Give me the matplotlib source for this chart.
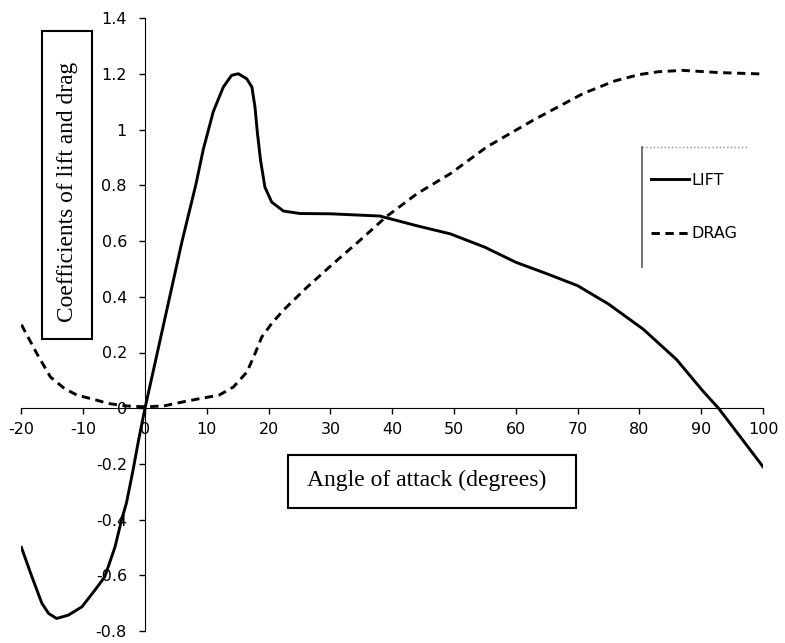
import matplotlib.pyplot as plt
from matplotlib.patches import Rectangle
from matplotlib.lines import Line2D

# values
angle_lift = [-20, -18.3, -16.7, -15.6, -14.3, -12.4, -10.2, -8.1, -6.5, -4.85, -3.8, -3, -2, -1, 0,
              2, 4, 6, 8.2, 9.44, 11.05, 12.67, 14.0, 15.1, 16.45, 17.3, 17.8, 18.2, 18.7,
              19.4, 20.5, 22.4, 25.1, 30, 38, 44, 49.4, 55, 60, 65, 70, 75, 80.6, 86, 90.3,
              92.8, 100]
lift = [-0.50, -0.605, -0.70, -0.737, -0.755, -0.743, -0.713, -0.653, -0.605, -0.498, -0.402, -0.34,
        -0.23, -0.11, 0.0,
        0.2, 0.4, 0.6, 0.8, 0.93, 1.065, 1.153, 1.195, 1.201, 1.183, 1.153, 1.081, 0.986, 0.89,
        0.794, 0.74, 0.708, 0.699, 0.698, 0.69, 0.655, 0.626, 0.578, 0.524, 0.483, 0.44, 0.374, 0.284,
        0.175, 0.061, 0.0, -0.21]

angle_drag = [-20, -17.5, -15.3, -13, -11, -8, -6, -3, 0, 3, 6, 9, 12, 14.3, 16.5, 17.8,
              18.9, 20.5, 22.4, 26, 30.5, 34.8, 39, 44, 49.4, 55.3, 62.8, 70.9, 76, 80, 83, 87,
              93, 100]
drag = [0.30, 0.196, 0.112, 0.07, 0.047, 0.03, 0.017, 0.008, 0.005, 0.008, 0.022, 0.035, 0.047,
        0.076, 0.13, 0.196, 0.256, 0.304, 0.352, 0.43, 0.52, 0.603, 0.687, 0.77, 0.842, 0.938,
        1.034, 1.13, 1.175, 1.198, 1.208, 1.213, 1.205, 1.20]

x_ticks = list(range(-20, 101, 10))
x_ticklabels = [str(v) for v in x_ticks]
y_ticks = [-0.8, -0.6, -0.4, -0.2, 0, 0.2, 0.4, 0.6, 0.8, 1.0, 1.2, 1.4]
y_ticklabels = ['-0.8', '-0.6', '-0.4', '-0.2', '0', '0.2', '0.4', '0.6', '0.8', '1', '1.2', '1.4']

plt.rcParams['font.family'] = ['DejaVu Sans']
plt.rcParams['lines.scale_dashes'] = False

W, H = 785, 643
fig = plt.figure(figsize=(W / 100, H / 100), dpi=100)
ax = fig.add_axes([21.4 / W, 1 - 631 / H, (763 - 21.4) / W, (631 - 18.3) / H])

ax.plot(angle_lift, lift, color='black', lw=2.1, label='LIFT')
ax.plot(angle_drag, drag, color='black', lw=2.1, ls=(0, (6, 4)), label='DRAG')

ax.set_xlim(-20, 100)
ax.set_ylim(-0.8, 1.4)
ax.spines['left'].set_position(('data', 0))
ax.spines['bottom'].set_position(('data', 0))
ax.spines['top'].set_visible(False)
ax.spines['right'].set_visible(False)
ax.set_xticks(x_ticks, x_ticklabels)
ax.set_yticks(y_ticks, y_ticklabels)
ax.tick_params(direction='out', length=4, width=1, labelsize=11.5)
ax.tick_params(axis='x', pad=6)
ax.tick_params(axis='y', pad=9)
ax.patch.set_visible(False)


def px_rect(x0, y0, x1, y1):
    return Rectangle((x0 / W, 1 - y1 / H), (x1 - x0) / W, (y1 - y0) / H,
                     transform=fig.transFigure, fill=False, ec='black', lw=1.5)


# boxed axis titles
fig.add_artist(px_rect(42, 31, 92, 339))
fig.text(67 / W, 1 - 192 / H, 'Coefficients of lift and drag', rotation=90,
         ha='center', va='center', family='Liberation Serif', fontsize=16.8)
fig.add_artist(px_rect(288, 455, 576, 508))
fig.text(427 / W, 1 - 480 / H, 'Angle of attack (degrees)',
         ha='center', va='center', family='Liberation Serif', fontsize=17)

# legend with a half-drawn frame like the original
ax.legend(loc='center left', bbox_to_anchor=(651 / W, 1 - 207 / H), bbox_transform=fig.transFigure,
          frameon=False, handlelength=2.4, handletextpad=0.15, labelspacing=2.4,
          borderpad=0, borderaxespad=0, fontsize=11.5)
fig.add_artist(Line2D([642 / W, 642 / W], [1 - 147 / H, 1 - 267 / H],
                      transform=fig.transFigure, color='0.35', lw=1.2))
fig.add_artist(Line2D([642 / W, 748 / W], [1 - 147 / H, 1 - 147 / H],
                      transform=fig.transFigure, color='0.55', lw=1, ls=':'))

fig.savefig('out.png', dpi=100)
